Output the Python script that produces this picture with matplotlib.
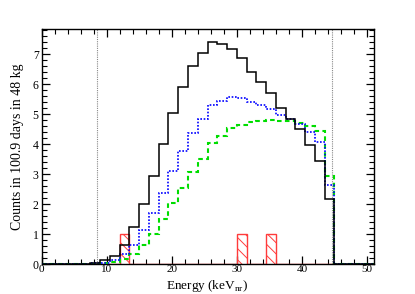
import numpy as np
import matplotlib
matplotlib.use("Agg")
import matplotlib.pyplot as plt
from matplotlib.ticker import MultipleLocator

# bins of 1.5 keV from 0 to 51
edges = np.arange(0, 51.01, 1.5)

# counts per bin, bins 0..33
total = [0, 0, 0, 0, 0, 0.05, 0.14, 0.28, 0.65, 1.22, 1.99, 2.94, 4.0, 5.02, 5.89,
         6.6, 7.04, 7.39, 7.33, 7.17, 6.86, 6.41, 6.06, 5.71, 5.19, 4.83, 4.5, 3.97,
         3.43, 2.17, 0, 0, 0, 0]
blue_model = [0, 0, 0, 0, 0, 0.02, 0.05, 0.12, 0.35, 0.63, 1.12, 1.7, 2.37, 3.1, 3.77,
              4.36, 4.82, 5.3, 5.44, 5.58, 5.52, 5.41, 5.3, 5.17, 4.97, 4.82, 4.67, 4.39,
              4.06, 2.63, 0, 0, 0, 0]
green_model = [0, 0, 0, 0, 0, 0, 0.03, 0.07, 0.17, 0.34, 0.64, 1.0, 1.5, 2.02, 2.55,
               3.07, 3.49, 4.02, 4.27, 4.55, 4.64, 4.74, 4.78, 4.8, 4.78, 4.76, 4.7, 4.61,
               4.43, 2.93, 0, 0, 0, 0]
observed = [0, 0, 0, 0, 0, 0, 0, 0, 1, 0, 0, 0, 0, 0, 0,
            0, 0, 0, 0, 0, 1, 0, 0, 1, 0, 0, 0, 0,
            0, 0, 0, 0, 0, 0]

# analysis window
window = [8.45, 44.65]

plt.rcParams['font.family'] = ['Liberation Serif', 'DejaVu Serif']
plt.rcParams['hatch.linewidth'] = 0.7

fig = plt.figure(figsize=(4.15, 2.94), dpi=100)
ax = fig.add_axes([0.1, 0.102, 0.8, 0.798])

ax.stairs(observed, edges, fill=True, facecolor='none', edgecolor='#ff3b3b',
          hatch='\\\\\\', linewidth=1.0, zorder=2)
ax.stairs(green_model, edges, color='#00dd00', linestyle=(0, (2.2, 1.6)), linewidth=1.5, zorder=3)
ax.stairs(blue_model, edges, color='#0000ff', linestyle=(0, (1, 1)), linewidth=1.2, zorder=3)
ax.stairs(total, edges, color='black', linewidth=1.1, zorder=4)

for w in window:
    ax.axvline(w, color='#888888', linestyle=(0, (1, 1)), linewidth=0.8, zorder=1)

ax.set_xlim(0, 51)
ax.set_ylim(0, 7.82)

ax.xaxis.set_major_locator(MultipleLocator(10))
ax.xaxis.set_minor_locator(MultipleLocator(2))
ax.yaxis.set_major_locator(MultipleLocator(1))
ax.yaxis.set_minor_locator(MultipleLocator(0.2))
ax.tick_params(which='both', direction='in', top=True, right=True, labelsize=8.5)
ax.tick_params(axis='x', labelsize=8, pad=1)
ax.tick_params(axis='y', pad=2)
ax.tick_params(which='major', length=6, width=0.9)
ax.tick_params(which='minor', length=3.5, width=0.8)
for s in ax.spines.values():
    s.set_linewidth(1.0)

ax.set_xlabel(r'Energy (keV$_{\mathregular{nr}}$)', fontsize=9.5)
ax.xaxis.set_label_coords(0.5, -0.058)
ax.set_ylabel('Counts in 100.9 days in 48 kg', fontsize=10, labelpad=6)

fig.savefig('out.png', dpi=100)
